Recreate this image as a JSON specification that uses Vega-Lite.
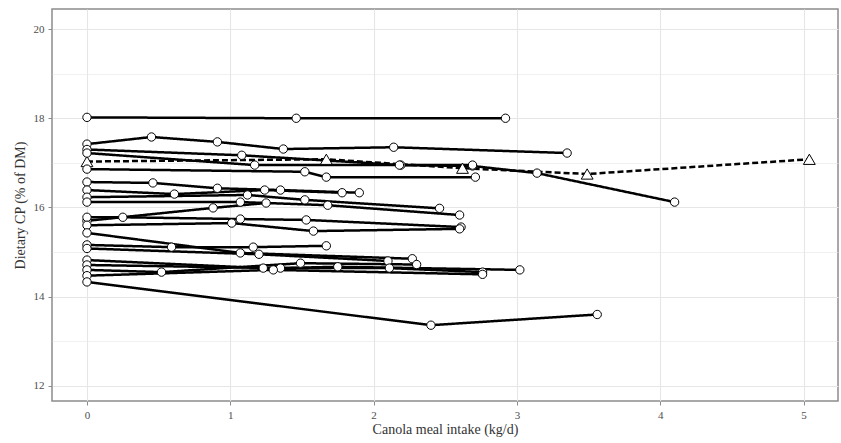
{
  "$schema": "https://vega.github.io/schema/vega-lite/v6.json",
  "autosize": {"type": "none"},
  "padding": {"left": 52, "top": 9, "right": 3, "bottom": 42},
  "width": 786,
  "height": 392,
  "background": "white",
  "config": {
    "view": {"stroke": "#8c8c8c", "strokeWidth": 1.5},
    "font": "Liberation Serif"
  },
  "data": {"values": [
    {"study":"A","x":0,"y":18.02,"kind":"solid"},{"study":"A","x":1.46,"y":18.0,"kind":"solid"},{"study":"A","x":2.92,"y":18.0,"kind":"solid"},
    {"study":"B","x":0,"y":17.42,"kind":"solid"},{"study":"B","x":0.45,"y":17.58,"kind":"solid"},{"study":"B","x":0.91,"y":17.47,"kind":"solid"},{"study":"B","x":1.37,"y":17.31,"kind":"solid"},{"study":"B","x":2.14,"y":17.35,"kind":"solid"},{"study":"B","x":3.35,"y":17.22,"kind":"solid"},
    {"study":"C","x":0,"y":17.3,"kind":"solid"},{"study":"C","x":1.08,"y":17.17,"kind":"solid"},{"study":"C","x":2.19,"y":16.95,"kind":"solid"},{"study":"C","x":2.69,"y":16.93,"kind":"solid"},{"study":"C","x":3.14,"y":16.77,"kind":"solid"},{"study":"C","x":4.1,"y":16.12,"kind":"solid"},
    {"study":"D","x":0,"y":17.03,"kind":"dashed"},{"study":"D","x":1.67,"y":17.08,"kind":"dashed"},{"study":"D","x":2.62,"y":16.88,"kind":"dashed"},{"study":"D","x":3.49,"y":16.75,"kind":"dashed"},{"study":"D","x":5.04,"y":17.08,"kind":"dashed"},
    {"study":"E","x":0,"y":17.22,"kind":"solid"},{"study":"E","x":1.17,"y":16.95,"kind":"solid"},{"study":"E","x":2.18,"y":16.95,"kind":"solid"},{"study":"E","x":2.69,"y":16.95,"kind":"solid"},
    {"study":"F","x":0,"y":16.86,"kind":"solid"},{"study":"F","x":1.52,"y":16.8,"kind":"solid"},{"study":"F","x":1.67,"y":16.68,"kind":"solid"},{"study":"F","x":2.71,"y":16.68,"kind":"solid"},
    {"study":"G","x":0,"y":16.57,"kind":"solid"},{"study":"G","x":0.46,"y":16.55,"kind":"solid"},{"study":"G","x":0.91,"y":16.43,"kind":"solid"},{"study":"G","x":1.35,"y":16.39,"kind":"solid"},{"study":"G","x":1.9,"y":16.33,"kind":"solid"},
    {"study":"H","x":0,"y":16.39,"kind":"solid"},{"study":"H","x":0.61,"y":16.3,"kind":"solid"},{"study":"H","x":1.24,"y":16.39,"kind":"solid"},{"study":"H","x":1.78,"y":16.33,"kind":"solid"},
    {"study":"I","x":0,"y":16.23,"kind":"solid"},{"study":"I","x":1.12,"y":16.28,"kind":"solid"},{"study":"I","x":1.52,"y":16.17,"kind":"solid"},{"study":"I","x":2.46,"y":15.98,"kind":"solid"},
    {"study":"J","x":0,"y":16.12,"kind":"solid"},{"study":"J","x":1.07,"y":16.12,"kind":"solid"},{"study":"J","x":1.68,"y":16.05,"kind":"solid"},{"study":"J","x":2.6,"y":15.83,"kind":"solid"},
    {"study":"K","x":0,"y":15.7,"kind":"solid"},{"study":"K","x":0.88,"y":15.99,"kind":"solid"},{"study":"K","x":1.25,"y":16.1,"kind":"solid"},
    {"study":"L","x":0,"y":15.78,"kind":"solid"},{"study":"L","x":0.25,"y":15.78,"kind":"solid"},{"study":"L","x":1.07,"y":15.74,"kind":"solid"},{"study":"L","x":1.53,"y":15.72,"kind":"solid"},{"study":"L","x":2.61,"y":15.56,"kind":"solid"},
    {"study":"M","x":0,"y":15.6,"kind":"solid"},{"study":"M","x":1.01,"y":15.65,"kind":"solid"},{"study":"M","x":1.58,"y":15.47,"kind":"solid"},{"study":"M","x":2.6,"y":15.52,"kind":"solid"},
    {"study":"N","x":0,"y":15.43,"kind":"solid"},{"study":"N","x":1.07,"y":14.98,"kind":"solid"},{"study":"N","x":2.27,"y":14.85,"kind":"solid"},
    {"study":"O","x":0,"y":15.16,"kind":"solid"},{"study":"O","x":0.59,"y":15.11,"kind":"solid"},{"study":"O","x":1.16,"y":15.11,"kind":"solid"},{"study":"O","x":1.67,"y":15.14,"kind":"solid"},
    {"study":"P","x":0,"y":15.08,"kind":"solid"},{"study":"P","x":1.2,"y":14.95,"kind":"solid"},{"study":"P","x":2.1,"y":14.8,"kind":"solid"},
    {"study":"Q","x":0,"y":14.82,"kind":"solid"},{"study":"Q","x":1.23,"y":14.64,"kind":"solid"},{"study":"Q","x":2.11,"y":14.64,"kind":"solid"},{"study":"Q","x":2.76,"y":14.55,"kind":"solid"},
    {"study":"R","x":0,"y":14.71,"kind":"solid"},{"study":"R","x":1.35,"y":14.64,"kind":"solid"},{"study":"R","x":1.75,"y":14.67,"kind":"solid"},{"study":"R","x":3.02,"y":14.6,"kind":"solid"},
    {"study":"S","x":0,"y":14.6,"kind":"solid"},{"study":"S","x":0.52,"y":14.55,"kind":"solid"},{"study":"S","x":1.49,"y":14.75,"kind":"solid"},{"study":"S","x":2.3,"y":14.72,"kind":"solid"},
    {"study":"T","x":0,"y":14.47,"kind":"solid"},{"study":"T","x":1.3,"y":14.6,"kind":"solid"},{"study":"T","x":2.76,"y":14.5,"kind":"solid"},
    {"study":"U","x":0,"y":14.33,"kind":"solid"},{"study":"U","x":2.4,"y":13.36,"kind":"solid"},{"study":"U","x":3.56,"y":13.6,"kind":"solid"}
  ]},
  "encoding": {
    "x": {"field": "x", "type": "quantitative",
      "scale": {"domain": [-0.244, 5.24], "nice": false, "zero": false},
      "axis": {"title": "Canola meal intake (kg/d)", "values": [0,0.5,1,1.5,2,2.5,3,3.5,4,4.5,5],
        "format": "d",
        "labelExpr": "datum.value % 1 === 0 ? datum.label : ''",
        "domain": false, "tickColor": "#8c8c8c", "tickSize": 4,
        "tickOpacity": {"condition": {"test": "datum.value % 1 !== 0", "value": 0}, "value": 1},
        "gridColor": "#e6e6e6", "gridWidth": {"condition": {"test": "datum.value % 1 !== 0", "value": 0.6}, "value": 1.1},
        "labelFont": "Liberation Serif", "labelFontSize": 11, "labelColor": "#4d4d4d", "labelPadding": 4,
        "titleFont": "Liberation Serif", "titleFontSize": 14, "titleFontWeight": "normal", "titleColor": "#333333", "titlePadding": 2}},
    "y": {"field": "y", "type": "quantitative",
      "scale": {"domain": [11.66, 20.45], "nice": false, "zero": false},
      "axis": {"title": "Dietary CP (% of DM)", "values": [12,13,14,15,16,17,18,19,20],
        "format": "d",
        "labelExpr": "datum.value % 2 === 0 ? datum.label : ''",
        "domain": false, "tickColor": "#8c8c8c", "tickSize": 4,
        "tickOpacity": {"condition": {"test": "datum.value % 2 !== 0", "value": 0}, "value": 1},
        "gridColor": "#e6e6e6", "gridWidth": {"condition": {"test": "datum.value % 2 !== 0", "value": 0.6}, "value": 1.1},
        "labelFont": "Liberation Serif", "labelFontSize": 11, "labelColor": "#4d4d4d", "labelPadding": 4,
        "titleFont": "Liberation Serif", "titleFontSize": 14, "titleFontWeight": "normal", "titleColor": "#333333", "titlePadding": 6}}
  },
  "layer": [
    {"mark": {"type": "line", "color": "black", "strokeWidth": 2.5},
     "encoding": {"detail": {"field": "study"},
       "strokeDash": {"field": "kind", "type": "nominal", "scale": {"domain": ["solid","dashed"], "range": [[1,0],[6,3]]}, "legend": null}}},
    {"mark": {"type": "point", "filled": false, "fill": "white", "fillOpacity": 1, "stroke": "black", "strokeWidth": 1, "opacity": 1},
     "encoding": {
       "shape": {"field": "kind", "type": "nominal", "scale": {"domain": ["solid","dashed"], "range": ["circle","triangle-up"]}, "legend": null},
       "size": {"field": "kind", "type": "nominal", "scale": {"domain": ["solid","dashed"], "range": [70, 140]}, "legend": null}}}
  ]
}
